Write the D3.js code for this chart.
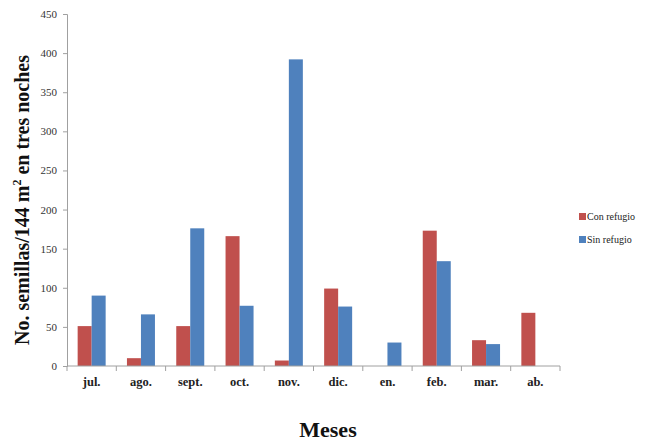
<!DOCTYPE html>
<html><head><meta charset="utf-8">
<script src="https://cdn.jsdelivr.net/npm/d3@7"></script>
<style>body{margin:0;background:#fff}svg{display:block}
svg text{font-family:'Liberation Serif','DejaVu Serif',serif;}</style>
</head><body>
<script>
const months = ["jul.","ago.","sept.","oct.","nov.","dic.","en.","feb.","mar.","ab."];
const conRefugio = [51, 10, 51, 166, 7, 99, 0, 173, 33, 68];
const sinRefugio = [90, 66, 176, 77, 392, 76, 30, 134, 28, 0];
const seriesNames = ["Con refugio", "Sin refugio"];
const seriesColors = ["#C0504D", "#4F81BD"];
const yTicks = [0,50,100,150,200,250,300,350,400,450];

const W = 649, H = 443;
const svg = d3.select("body").append("svg").attr("width", W).attr("height", H);
const mLeft = 67, mRight = 560, mTop = 14, mBottom = 366;

const x = d3.scaleBand().domain(months).range([mLeft, mRight]).paddingInner(0).paddingOuter(0);
const y = d3.scaleLinear().domain([0, 450]).range([mBottom, mTop]);
const bw = 14;
const series = [conRefugio, sinRefugio];

const g = svg.append("g");
series.forEach((vals, si) => {
  g.selectAll(".b" + si).data(months).enter().append("rect")
    .attr("x", d => x(d) + x.bandwidth()/2 - bw + si*bw)
    .attr("width", bw)
    .attr("y", (d,i) => y(vals[i]))
    .attr("height", (d,i) => y(0) - y(vals[i]))
    .attr("fill", seriesColors[si]);
});

// y axis
const ya = svg.append("g").attr("transform", `translate(${mLeft},0)`)
  .call(d3.axisLeft(y).tickValues(yTicks).tickSize(4).tickPadding(6));
ya.attr("font-family", null);
ya.select(".domain").attr("stroke", "#a0a0a0");
ya.selectAll(".tick line").attr("stroke", "#a0a0a0");
ya.selectAll("text").style("font-size", "11px").attr("fill", "#333");

// x axis
const xa = svg.append("g").attr("transform", `translate(0,${mBottom})`);
xa.append("line").attr("x1", mLeft).attr("x2", mRight).attr("y1", 0).attr("y2", 0).attr("stroke", "#a0a0a0");
const bounds = months.map(m => x(m)).concat([mRight]);
xa.selectAll(".xt").data(bounds).enter().append("line")
  .attr("x1", d => d).attr("x2", d => d).attr("y1", 0).attr("y2", 5).attr("stroke", "#a0a0a0");
xa.selectAll(".xl").data(months).enter().append("text")
  .attr("x", d => x(d) + x.bandwidth()/2).attr("y", 20)
  .attr("text-anchor", "middle")
  .style("font-weight", "bold").style("font-size", "12.5px")
  .attr("fill", "#222").text(d => d);

// axis titles
const yt = svg.append("text")
  .attr("transform", `translate(29,${(mTop+mBottom)/2 + 10}) rotate(-90)`)
  .attr("text-anchor", "middle")
  .style("font-weight", "bold").style("font-size", "20px")
  .attr("fill", "#111");
yt.append("tspan").text("No. semillas/144 m");
yt.append("tspan").attr("dy", -8).style("font-size", "12px").text("2");
yt.append("tspan").attr("dy", 8).text(" en tres noches");

svg.append("text").attr("x", 328).attr("y", 437).attr("text-anchor", "middle")
  .style("font-weight", "bold").style("font-size", "22px")
  .attr("fill", "#111").text("Meses");

// legend
const lg = svg.append("g").attr("transform", "translate(579,210)");
seriesNames.forEach((n, i) => {
  lg.append("rect").attr("x", 0).attr("y", i*23 + 3).attr("width", 7).attr("height", 7).attr("fill", seriesColors[i]);
  lg.append("text").attr("x", 8).attr("y", i*23 + 10)
    .style("font-size", "10px").attr("fill", "#222").text(n);
});
</script>
</body></html>
